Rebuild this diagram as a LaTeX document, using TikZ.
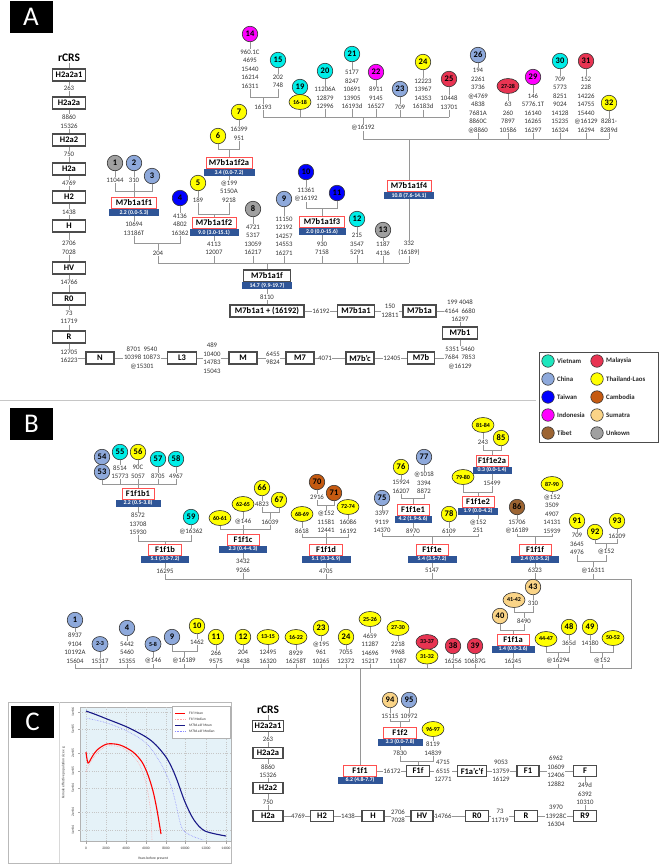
\documentclass[tikz,border=0pt]{standalone}
\usepackage{fontspec}
\setmainfont{Carlito}
\usetikzlibrary{shapes.geometric}
\definecolor{cVN}{RGB}{0,238,232}
\definecolor{cVNl}{RGB}{30,230,190}
\definecolor{cMY}{RGB}{232,52,82}
\definecolor{cCN}{RGB}{142,169,219}
\definecolor{cTH}{RGB}{255,255,0}
\definecolor{cTW}{RGB}{0,0,255}
\definecolor{cKH}{RGB}{197,90,17}
\definecolor{cID}{RGB}{255,0,255}
\definecolor{cSU}{RGB}{250,212,135}
\definecolor{cTB}{RGB}{156,100,50}
\definecolor{cUK}{RGB}{160,160,160}
\definecolor{barblue}{RGB}{47,85,151}
\definecolor{lncol}{RGB}{150,150,150}
\definecolor{redbox}{RGB}{255,80,80}
\definecolor{plotbg}{RGB}{229,242,248}
\definecolor{navy}{RGB}{25,25,135}
\tikzset{
  ln/.style={draw=lncol,line width=0.9pt},
  num/.style={font=\fontsize{6.8}{8.5}\selectfont,align=center,inner sep=0.4pt,text=black!80},
  hb/.style={draw=black!70,line width=1.2pt,fill=white,font=\fontsize{8.5}{10}\selectfont\bfseries,minimum height=12pt,inner xsep=2pt,inner ysep=0pt},
  hbb/.style={hb,minimum height=10.5pt},
  rb/.style={draw=redbox,line width=0.9pt,fill=white,font=\fontsize{8.5}{10}\selectfont\bfseries,minimum height=11pt,inner xsep=2pt,inner ysep=0pt},
  bar/.style={fill=barblue,text=white,font=\fontsize{5.8}{6}\selectfont\bfseries,minimum height=7pt,inner sep=0pt},
  cc/.style={circle,draw=black!80,line width=0.6pt,minimum size=15.5pt,inner sep=0pt,font=\fontsize{8.5}{8.5}\selectfont\bfseries},
  ee/.style={ellipse,draw=black!80,line width=0.6pt,minimum width=22pt,minimum height=15pt,inner sep=0pt,font=\fontsize{6}{6}\selectfont\bfseries},
  es/.style={ee,minimum width=16pt},
  panellab/.style={fill=black,text=white,minimum width=43pt,minimum height=32pt,inner sep=0pt,font=\fontsize{27}{27}\selectfont},
  rcrs/.style={font=\fontsize{11.5}{12}\selectfont\bfseries,inner sep=0.5pt},
  legc/.style={circle,draw=black!80,line width=0.6pt,minimum size=12.5pt,inner sep=0pt},
  legt/.style={anchor=west,font=\fontsize{6.8}{8}\selectfont\bfseries,inner sep=0pt,text=black!85},
  tick/.style={font=\fontsize{3.6}{4}\selectfont,inner sep=0pt,text=black!80},
  gridl/.style={draw=gray!45,line width=0.3pt,dotted},
}
\begin{document}
\begin{tikzpicture}[x=1pt,y=-1pt]
\useasboundingbox (0,0) rectangle (660,865);
% ================= PANEL A =================
\node[panellab] (labA) at (31,17) {A};
\node[rcrs] (aRCRS) at (69,58) {rCRS};
\node[hb,minimum width=33pt] (aH2a2a1) at (69,75) {H2a2a1};
\node[num] (a263) at (69,88) {263};
\node[hb,minimum width=33pt] (aH2a2a) at (69,103) {H2a2a};
\node[num] (a8860) at (69,121.5) {8860\\15326};
\node[hb,minimum width=33pt] (aH2a2) at (69,140) {H2a2};
\node[num] (a750) at (69,154) {750};
\node[hb,minimum width=33pt] (aH2a) at (69,169) {H2a};
\node[num] (a4769) at (69,183) {4769};
\node[hb,minimum width=33pt] (aH2) at (69,197) {H2};
\node[num] (a1438) at (69,212) {1438};
\node[hb,minimum width=33pt] (aH) at (69,226) {H};
\node[num] (a2706) at (69,247.5) {2706\\7028};
\node[hb,minimum width=33pt] (aHV) at (69,268) {HV};
\node[num] (a14766) at (69,282) {14766};
\node[hb,minimum width=33pt] (aR0) at (69,299) {R0};
\node[num] (a73) at (69,317.5) {73\\11719};
\node[hb,minimum width=33pt] (aR) at (69,337) {R};
\node[num] (a12705) at (69,356.5) {12705\\16223};
\draw[ln] (aRCRS) -- (aH2a2a1) -- (a263) -- (aH2a2a) -- (a8860) -- (aH2a2) -- (a750) -- (aH2a) -- (a4769) -- (aH2) -- (a1438) -- (aH) -- (a2706) -- (aHV) -- (a14766) -- (aR0) -- (a73) -- (aR) -- (a12705);
% bottom chain
\node[hb,minimum width=28pt] (aN) at (100,358) {N};
\node[num] (aNl) at (142,358) {8701~~9540\\10398 10873\\@15301};
\node[hb,minimum width=29pt] (aL3) at (182,358) {L3};
\node[num] (aL3l) at (212,358) {489\\10400\\14783\\15043};
\node[hb,minimum width=28pt] (aM) at (243,358) {M};
\node[num] (aMl) at (273,358) {6455\\9824};
\node[hb,minimum width=28pt] (aM7) at (300,358) {M7};
\node[num] (a4071) at (325,358) {4071};
\node[hb,minimum width=28pt] (aM7bc) at (360,358) {M7b’c};
\node[num] (a12405) at (392,358) {12405};
\node[hb,minimum width=27pt] (aM7b) at (421,358) {M7b};
\node[num] (aM7bl) at (460,358) {5351 5460\\7684~~7853\\@16129};
\node[hb,minimum width=35pt] (aM7b1) at (460,333) {M7b1};
\node[num] (aM7b1l) at (460,311) {199 4048\\4164~~6680\\16297};
\node[hb,minimum width=33pt] (aM7b1a) at (419.5,311) {M7b1a};
\node[num] (a150) at (390,311) {150\\12811};
\node[hb,minimum width=37pt] (aM7b1a1) at (356,311) {M7b1a1};
\node[num] (a16192) at (321,311) {16192};
\node[hb,minimum width=74pt] (aM7b1a1p) at (267,311) {M7b1a1 + (16192)};
\node[num] (a8110) at (267,297) {8110};
\node[hb,minimum width=47pt] (aM7b1a1f) at (267,276) {M7b1a1f};
\node[bar,minimum width=50pt] (aBf) at (267,285.5) {14.7 (9.9-19.7)};
\draw[ln] (a12705.east |- aN) -- (aN);
\draw[ln] (aN) -- (aNl) -- (aL3) -- (aL3l) -- (aM) -- (aMl) -- (aM7) -- (a4071) -- (aM7bc) -- (a12405) -- (aM7b) -- (aM7bl);
\draw[ln] (aM7bl) -- (aM7b1) -- (aM7b1l);
\draw[ln] (aM7b1a) -- (aM7b1l);
\draw[ln] (aM7b1a1) -- (a150) -- (aM7b1a);
\draw[ln] (aM7b1a1p) -- (a16192) -- (aM7b1a1);
\draw[ln] (aM7b1a1p) -- (a8110) -- (aBf);
% main horizontal y=263
\coordinate (jA263L) at (158,263);
\coordinate (jA263R) at (409,263);
\draw[ln] (jA263L) -- (jA263R);
\draw[ln] (aM7b1a1f) -- (aM7b1a1f |- jA263L);
% f1
\node[cc,fill=cUK] (c1) at (115,163) {1};
\node[cc,fill=cCN] (c2) at (134,163) {2};
\node[cc,fill=cCN] (c3) at (152,176) {3};
\node[num] (l1) at (115,180) {11044};
\node[num] (l2) at (134,180) {310};
\coordinate (j191) at (134,191);
\draw[ln] (c1) -- (l1); \draw[ln] (c2) -- (l2);
\draw[ln] (l1) |- (j191); \draw[ln] (c3) |- (j191);
\node[rb,minimum width=45pt] (f1) at (134,203) {M7b1a1f1};
\node[bar,minimum width=50pt] (bf1) at (134,212.5) {2.2 (0.0-5.3)};
\draw[ln] (l2) -- (f1);
\node[num] (lf1) at (134,228.5) {10694\\13186T};
\draw[ln] (bf1) -- (lf1);
\node[cc,fill=cTW] (c4) at (180,198) {4};
\node[num] (l4) at (180,224.5) {4136\\4802\\16362};
\draw[ln] (c4) -- (l4);
\coordinate (j243) at (158,243);
\draw[ln] (lf1) |- (j243); \draw[ln] (l4) |- (j243);
\node[num] (l204) at (158,253) {204};
\draw[ln] (j243) -- (l204) -- (jA263L);
% f2
\node[cc,fill=cTH] (c6) at (218,136) {6};
\node[cc,fill=cTH] (c7) at (239,112) {7};
\node[num] (l7) at (239,133.5) {16399\\951};
\draw[ln] (c7) -- (l7);
\coordinate (j149) at (229,149);
\draw[ln] (c6) |- (j149); \draw[ln] (l7) |- (j149);
\node[rb,minimum width=46pt] (f2a) at (229,163) {M7b1a1f2a};
\node[bar,minimum width=51pt] (bf2a) at (229,172.5) {3.4 (0.0-7.2)};
\draw[ln] (j149) -- (f2a);
\node[num] (lf2a) at (229,191.5) {@199\\5150A\\9218};
\draw[ln] (bf2a) -- (lf2a);
\node[cc,fill=cTH] (c5) at (198,183) {5};
\node[num] (l5) at (198,200) {189};
\draw[ln] (c5) -- (l5);
\coordinate (j214) at (214,214);
\draw[ln] (l5) |- (j214); \draw[ln] (lf2a) |- (j214);
\node[rb,minimum width=44pt] (f2) at (214,223) {M7b1a1f2};
\node[bar,minimum width=49pt] (bf2) at (214,232.5) {9.0 (3.0-15.1)};
\draw[ln] (j214) -- (f2);
\node[num] (lf2) at (214,248.5) {4113\\12007};
\draw[ln] (bf2) -- (lf2) -- (lf2 |- jA263L);
% 8, 9
\node[cc,fill=cUK] (c8) at (253,209) {8};
\node[num] (l8) at (253,240) {4721\\5317\\13059\\16217};
\draw[ln] (c8) -- (l8) -- (l8 |- jA263L);
\node[cc,fill=cCN] (c9) at (284,199) {9};
\node[num] (l9) at (284,236) {11150\\12192\\14257\\14553\\16271};
\draw[ln] (c9) -- (l9) -- (l9 |- jA263L);
% f3
\node[cc,fill=cTW] (c10) at (306,172) {10};
\node[num] (l10) at (306,194.5) {11361\\@16192};
\draw[ln] (c10) -- (l10);
\node[cc,fill=cTW] (c11) at (337,193) {11};
\coordinate (j208) at (322,208);
\draw[ln] (l10) |- (j208); \draw[ln] (c11) |- (j208);
\node[rb,minimum width=45pt] (f3) at (322,222) {M7b1a1f3};
\node[bar,minimum width=47pt] (bf3) at (322,231.5) {2.0 (0.0-15.6)};
\draw[ln] (j208) -- (f3);
\node[num] (lf3) at (322,248.5) {930\\7158};
\draw[ln] (bf3) -- (lf3) -- (lf3 |- jA263L);
% 12, 13, 332
\node[cc,fill=cVN] (c12) at (357,219) {12};
\node[num] (l12) at (357,244) {215\\3547\\5291};
\draw[ln] (c12) -- (l12) -- (l12 |- jA263L);
\node[cc,fill=cUK] (c13) at (383,230) {13};
\node[num] (l13) at (383,248.5) {1187\\4136};
\draw[ln] (c13) -- (l13) -- (l13 |- jA263L);
\node[num] (l332) at (409,248.5) {332\\(16189)};
\draw[ln] (l332) -- (jA263R);
% f4
\node[rb,minimum width=44pt] (f4) at (409,186) {M7b1a1f4};
\node[bar,minimum width=50pt] (bf4) at (409,195.5) {10.8 (7.6-14.1)};
\draw[ln] (bf4) -- (l332);
\coordinate (j139) at (409,139);
\draw[ln] (j139) -- (f4);
\coordinate (j139L) at (363,139);
\coordinate (j139R) at (609,139);
\draw[ln] (j139L) -- (j139R);
\node[num] (l16192u) at (363,128) {@16192};
\draw[ln] (l16192u) -- (j139L);
\node[cc,fill=cCN] (c26) at (478,55) {26};
\node[num] (l26) at (478,100.5) {194\\2261\\3736\\@4769\\4838\\7681A\\8860C\\@8860};
\draw[ln] (c26) -- (l26) -- (l26 |- j139L);
\node[ee,fill=cMY] (e2728) at (508,86) {27-28};
\node[num] (l2728) at (508,117) {63\\260\\7897\\10586};
\draw[ln] (e2728) -- (l2728) -- (l2728 |- j139L);
\node[cc,fill=cID] (c29) at (533,77) {29};
\node[num] (l29) at (533,113) {146\\5776.1T\\16140\\16265\\16297};
\draw[ln] (c29) -- (l29) -- (l29 |- j139L);
\node[cc,fill=cVN] (c30) at (560,61) {30};
\node[num] (l30) at (560,104.5) {709\\5773\\8251\\9024\\14128\\15235\\16324};
\draw[ln] (c30) -- (l30) -- (l30 |- j139L);
\node[cc,fill=cMY] (c31) at (586,61) {31};
\node[num] (l31) at (586,104.5) {152\\228\\14226\\14755\\15440\\@16129\\16294};
\draw[ln] (c31) -- (l31) -- (l31 |- j139L);
\node[cc,fill=cTH] (c32) at (609,103) {32};
\node[num] (l32) at (609,125.5) {8281-\\8289d};
\draw[ln] (c32) -- (l32) -- (j139R);
% upper subtree y=117
\coordinate (j117L) at (263,117);
\coordinate (j117R) at (449,117);
\coordinate (j117m) at (363,117);
\draw[ln] (j117L) -- (j117R);
\draw[ln] (j117m) -- (l16192u);
\node[num] (l16193) at (263,107) {16193};
\draw[ln] (l16193) -- (j117L);
\coordinate (j97) at (263,97);
\draw[ln] (j97) -- (l16193);
\node[cc,fill=cID] (c14) at (250,34) {14};
\node[num] (l14) at (250,69) {960.1C\\4695\\15440\\16214\\16311};
\draw[ln] (c14) -- (l14); \draw[ln] (l14) |- (j97);
\node[cc,fill=cVN] (c15) at (278,60) {15};
\node[num] (l15) at (278,81.5) {202\\748};
\draw[ln] (c15) -- (l15); \draw[ln] (l15) |- (j97);
\node[cc,fill=cVN] (c19) at (300,87) {19};
\node[ee,fill=cTH] (e1618) at (300,102) {16-18};
\draw[ln] (e1618) -- (e1618 |- j117L);
\node[cc,fill=cVN] (c20) at (325,71) {20};
\node[num] (l20) at (325,98) {11206A\\12879\\12996};
\draw[ln] (c20) -- (l20) -- (l20 |- j117L);
\node[cc,fill=cVN] (c21) at (352,54) {21};
\node[num] (l21) at (352,89.5) {5177\\8247\\10691\\13905\\16193d};
\draw[ln] (c21) -- (l21) -- (l21 |- j117L);
\node[cc,fill=cID] (c22) at (376,72) {22};
\node[num] (l22) at (376,98) {8911\\9145\\16527};
\draw[ln] (c22) -- (l22) -- (l22 |- j117L);
\node[cc,fill=cCN] (c23) at (400,89) {23};
\node[num] (l23) at (400,107) {709};
\draw[ln] (c23) -- (l23) -- (l23 |- j117L);
\node[cc,fill=cTH] (c24) at (423,62) {24};
\node[num] (l24) at (423,94) {12223\\13967\\14353\\16183d};
\draw[ln] (c24) -- (l24) -- (l24 |- j117L);
\node[cc,fill=cMY] (c25) at (449,79) {25};
\node[num] (l25) at (449,102.5) {10448\\13701};
\draw[ln] (c25) -- (l25) -- (j117R);
% legend
\node[draw=black!70,line width=0.8pt,minimum width=119pt,minimum height=90pt,inner sep=0pt] (legA) at (598.5,397) {};
\node[legc,fill=cVNl] (lg1) at (548,361) {}; \node[legt] (lt1) at (557,361) {Vietnam};
\node[legc,fill=cMY] (lg2) at (597,361) {}; \node[legt] (lt2) at (606,361) {Malaysia};
\node[legc,fill=cCN] (lg3) at (548,379) {}; \node[legt] (lt3) at (557,379) {China};
\node[legc,fill=cTH] (lg4) at (597,379) {}; \node[legt] (lt4) at (606,379) {Thailand-Laos};
\node[legc,fill=cTW] (lg5) at (548,397) {}; \node[legt] (lt5) at (557,397) {Taiwan};
\node[legc,fill=cKH] (lg6) at (597,397) {}; \node[legt] (lt6) at (606,397) {Cambodia};
\node[legc,fill=cID] (lg7) at (548,415) {}; \node[legt] (lt7) at (557,415) {Indonesia};
\node[legc,fill=cSU] (lg8) at (597,415) {}; \node[legt] (lt8) at (606,415) {Sumatra};
\node[legc,fill=cTB] (lg9) at (548,433) {}; \node[legt] (lt9) at (557,433) {Tibet};
\node[legc,fill=cUK] (lg10) at (597,433) {}; \node[legt] (lt10) at (606,433) {Unkown};
% separator
\draw[draw=gray!45,line width=0.9pt] (0,400) -- (536,400);
% ================= PANEL B =================
\node[panellab] (labB) at (31.5,424) {B};
\node[cc,fill=cCN] (b54) at (102,457) {54};
\node[cc,fill=cCN] (b53) at (102,472) {53};
\node[cc,fill=cVN] (b55) at (120,452) {55};
\node[cc,fill=cTH] (b56) at (138,452) {56};
\node[cc,fill=cVN] (b57) at (158,459) {57};
\node[cc,fill=cVN] (b58) at (176,459) {58};
\node[num] (bl55) at (120,472) {8514\\15773};
\node[num] (bl56) at (138,472) {90C\\5057};
\node[num] (bl57) at (158,476) {8705};
\node[num] (bl58) at (176,476) {4967};
\coordinate (bj484) at (138,484);
\draw[ln] (b55) -- (bl55); \draw[ln] (b56) -- (bl56); \draw[ln] (b57) -- (bl57); \draw[ln] (b58) -- (bl58);
\draw[ln] (b53) |- (bj484); \draw[ln] (bl55) -- (bl55 |- bj484); \draw[ln] (bl58) |- (bj484); \draw[ln] (bl57) -- (bl57 |- bj484); \draw[ln] (bl56) -- (bj484);
\node[rb,minimum width=32pt] (F1f1b1) at (138,494) {F1f1b1};
\node[bar,minimum width=45pt] (bF1f1b1) at (138,503) {2.2 (0.5-3.8)};
\draw[ln] (bj484) -- (F1f1b1);
\node[num] (bl1b1) at (138,524) {8572\\13708\\15930};
\draw[ln] (bF1f1b1) -- (bl1b1);
\node[cc,fill=cVN] (b59) at (191,517) {59};
\node[num] (bl59) at (191,532) {@16362};
\draw[ln] (b59) -- (bl59);
\coordinate (bj541) at (165,541);
\draw[ln] (bl1b1) |- (bj541); \draw[ln] (bl59) |- (bj541);
\node[rb,minimum width=33pt] (F1f1b) at (165,550) {F1f1b};
\node[bar,minimum width=48pt] (bF1f1b) at (165,559) {5.1 (3.0-7.2)};
\draw[ln] (bj541) -- (F1f1b);
\node[num] (bl16295) at (165,571) {16295};
\coordinate (bjTopL) at (165,579);
\coordinate (bjTopR) at (631,579);
\draw[ln] (bF1f1b) -- (bl16295) -- (bjTopL);
\draw[ln] (bjTopL) -- (bjTopR);
% F1f1c
\node[cc,fill=cTH] (b66) at (262,488) {66};
\node[cc,fill=cTH] (b67) at (279,500) {67};
\node[num] (bl66) at (262,504) {4823};
\draw[ln] (b66) -- (bl66);
\coordinate (bj512) at (270,512);
\draw[ln] (bl66) |- (bj512); \draw[ln] (b67) |- (bj512);
\node[num] (bl16039) at (270,522) {16039};
\draw[ln] (bj512) -- (bl16039);
\node[ee,fill=cTH] (b6265) at (243,504) {62-65};
\node[num] (bl146) at (243,522) {@146};
\draw[ln] (b6265) -- (bl146);
\node[ee,fill=cTH] (b6061) at (220,518) {60-61};
\coordinate (bj529) at (243,529);
\draw[ln] (b6061) |- (bj529); \draw[ln] (bl16039) |- (bj529);
\node[rb,minimum width=32pt] (F1f1c) at (243,540) {F1f1c};
\node[bar,minimum width=48pt] (bF1f1c) at (243,549) {2.3 (0.4-4.3)};
\draw[ln] (bl146) -- (F1f1c);
\node[num] (bl3432) at (243,566) {3432\\9266};
\draw[ln] (bF1f1c) -- (bl3432) -- (bl3432 |- bjTopL);
% F1f1d
\node[ee,fill=cTH] (b6869) at (302,514) {68-69};
\node[num] (bl8618) at (302,531) {8618};
\draw[ln] (b6869) -- (bl8618);
\node[cc,fill=cKH] (b70) at (317,482) {70};
\node[num] (bl2916) at (317,497) {2916};
\draw[ln] (b70) -- (bl2916);
\node[cc,fill=cKH] (b71) at (334,493) {71};
\coordinate (bj505) at (326,505);
\draw[ln] (bl2916) |- (bj505); \draw[ln] (b71) |- (bj505);
\node[num] (bl71) at (326,522) {@152\\11581\\12441};
\draw[ln] (bj505) -- (bl71);
\node[ee,fill=cTH] (b7274) at (348,507) {72-74};
\node[num] (bl7274) at (348,526.5) {16086\\16192};
\draw[ln] (b7274) -- (bl7274);
\coordinate (bj537) at (326,537);
\draw[ln] (bl8618) |- (bj537); \draw[ln] (bl7274) |- (bj537);
\node[rb,minimum width=33pt] (F1f1d) at (326,550) {F1f1d};
\node[bar,minimum width=49pt] (bF1f1d) at (326,559) {5.1 (3.3-6.9)};
\draw[ln] (bl71) -- (F1f1d);
\node[num] (bl4705) at (326,571) {4705};
\draw[ln] (bF1f1d) -- (bl4705) -- (bl4705 |- bjTopL);
% F1f1e
\node[cc,fill=cCN] (b75) at (382,498) {75};
\node[num] (bl75) at (382,522) {3397\\9119\\14370};
\draw[ln] (b75) -- (bl75);
\node[cc,fill=cTH] (b76) at (401,467) {76};
\node[num] (bl76) at (401,487) {15924\\16207};
\node[cc,fill=cCN] (b77) at (424,457) {77};
\node[num] (bl77) at (424,483) {@1018\\3394\\8872};
\draw[ln] (b76) -- (bl76); \draw[ln] (b77) -- (bl77);
\coordinate (bj498) at (413,498);
\draw[ln] (bl76) |- (bj498); \draw[ln] (bl77) |- (bj498);
\node[rb,minimum width=32pt] (F1f1e1) at (413,510) {F1f1e1};
\node[bar,minimum width=37pt] (bF1f1e1) at (413,519) {4.2 (1.9-6.6)};
\draw[ln] (bj498) -- (F1f1e1);
\node[num] (bl8970) at (413,531) {8970};
\draw[ln] (bF1f1e1) -- (bl8970);
\node[cc,fill=cTH] (b78) at (449,514) {78};
\node[num] (bl6109) at (449,531) {6109};
\draw[ln] (b78) -- (bl6109);
\node[ee,fill=cTH] (b8184) at (483,425) {81-84};
\node[num] (bl243) at (483,442) {243};
\draw[ln] (b8184) -- (bl243);
\node[cc,fill=cTH] (b85) at (501,438) {85};
\coordinate (bj450) at (492,450);
\draw[ln] (bl243) |- (bj450); \draw[ln] (b85) |- (bj450);
\node[rb,minimum width=32pt] (F1f1e2a) at (492,461) {F1f1e2a};
\node[bar,minimum width=39pt] (bF1f1e2a) at (492,470) {0.3 (0.0-1.4)};
\draw[ln] (bj450) -- (F1f1e2a);
\node[num] (bl15499) at (492,483) {15499};
\draw[ln] (bF1f1e2a) -- (bl15499);
\node[ee,fill=cTH] (b7980) at (463,477) {79-80};
\coordinate (bj492) at (478,492);
\draw[ln] (b7980) |- (bj492); \draw[ln] (bl15499) |- (bj492);
\node[rb,minimum width=32pt] (F1f1e2) at (478,502) {F1f1e2};
\node[bar,minimum width=40pt] (bF1f1e2) at (478,511) {1.9 (0.0-4.2)};
\draw[ln] (bj492) -- (F1f1e2);
\node[num] (bl152e) at (478,526.5) {@152\\251};
\draw[ln] (bF1f1e2) -- (bl152e);
\coordinate (bj536e) at (432,536);
\draw[ln] (bl75) |- (bj536e); \draw[ln] (bl152e) |- (bj536e);
\draw[ln] (bl8970) -- (bl8970 |- bj536e); \draw[ln] (bl6109) -- (bl6109 |- bj536e);
\node[rb,minimum width=32pt] (F1f1e) at (432,550) {F1f1e};
\node[bar,minimum width=49pt] (bF1f1e) at (432,559) {5.4 (3.5-7.2)};
\draw[ln] (bj536e) -- (F1f1e);
\node[num] (bl5147) at (432,570.5) {5147};
\draw[ln] (bF1f1e) -- (bl5147) -- (bl5147 |- bjTopL);
% F1f1f
\node[cc,fill=cTB] (b86) at (517,507) {86};
\node[num] (bl86) at (517,526.5) {15706\\@16189};
\draw[ln] (b86) -- (bl86);
\node[ee,fill=cTH] (b8790) at (552,484) {87-90};
\node[num] (bl8790) at (552,514) {@152\\3509\\4907\\14131\\15939};
\draw[ln] (b8790) -- (bl8790);
\coordinate (bj536f) at (535,536);
\draw[ln] (bl86) |- (bj536f); \draw[ln] (bl8790) |- (bj536f);
\node[rb,minimum width=32pt] (F1f1f) at (535,550) {F1f1f};
\node[bar,minimum width=48pt] (bF1f1f) at (535,559) {2.4 (0.0-5.2)};
\draw[ln] (bj536f) -- (F1f1f);
\node[num] (bl6323) at (535,570.5) {6323};
\draw[ln] (bF1f1f) -- (bl6323) -- (bl6323 |- bjTopL);
% @16311
\node[cc,fill=cTH] (b91) at (577,521) {91};
\node[num] (bl91) at (577,544) {709\\3645\\4976};
\draw[ln] (b91) -- (bl91);
\node[cc,fill=cTH] (b92) at (595,532) {92};
\node[cc,fill=cTH] (b93) at (617,521) {93};
\node[num] (bl93) at (617,536) {16209};
\draw[ln] (b93) -- (bl93);
\coordinate (bj543) at (606,543);
\draw[ln] (b92) |- (bj543); \draw[ln] (bl93) |- (bj543);
\node[num] (bl152g) at (606,552) {@152};
\draw[ln] (bj543) -- (bl152g);
\coordinate (bj561) at (593,561);
\draw[ln] (bl91) |- (bj561); \draw[ln] (bl152g) |- (bj561);
\node[num] (bl16311) at (593,570.5) {@16311};
\draw[ln] (bj561) -- (bl16311) -- (bl16311 |- bjTopL);
% frame lines
\coordinate (bjBotR) at (631,668);
\coordinate (bjBotL) at (75,668);
\draw[ln] (bjTopR) -- (bjBotR) -- (bjBotL);
% bottom row
\node[cc,fill=cCN] (d1) at (75,620) {1};
\node[num] (dl1) at (75,648) {8937\\9104\\10192A\\15604};
\draw[ln] (d1) -- (dl1) -- (bjBotL);
\node[es,fill=cCN] (d23) at (100,644) {2-3};
\node[num] (dl23) at (100,661) {15317};
\draw[ln] (d23) -- (dl23) -- (dl23 |- bjBotL);
\node[cc,fill=cCN] (d4) at (127,628) {4};
\node[num] (dl4) at (127,652.5) {5442\\5460\\15355};
\draw[ln] (d4) -- (dl4) -- (dl4 |- bjBotL);
\node[es,fill=cCN] (d58) at (153,644) {5-8};
\node[num] (dl58) at (153,661) {@146};
\draw[ln] (d58) -- (dl58) -- (dl58 |- bjBotL);
\node[cc,fill=cCN] (d9) at (172,637) {9};
\node[cc,fill=cTH] (d10) at (197,626) {10};
\node[num] (dl10) at (197,642) {1462};
\draw[ln] (d10) -- (dl10);
\coordinate (dj651) at (184,651);
\draw[ln] (d9) |- (dj651); \draw[ln] (dl10) |- (dj651);
\node[num] (dl9) at (184,661) {@16189};
\draw[ln] (dj651) -- (dl9) -- (dl9 |- bjBotL);
\node[cc,fill=cTH] (d11) at (216,637) {11};
\node[num] (dl11) at (216,657) {266\\9575};
\draw[ln] (d11) -- (dl11) -- (dl11 |- bjBotL);
\node[cc,fill=cTH] (d12) at (243,637) {12};
\node[num] (dl12) at (243,657) {204\\9438};
\draw[ln] (d12) -- (dl12) -- (dl12 |- bjBotL);
\node[ee,fill=cTH] (d1315) at (268,637) {13-15};
\node[num] (dl1315) at (268,657) {12495\\16320};
\draw[ln] (d1315) -- (dl1315) -- (dl1315 |- bjBotL);
\node[ee,fill=cTH] (d1622) at (296,637) {16-22};
\node[num] (dl1622) at (296,657) {8929\\16258T};
\draw[ln] (d1622) -- (dl1622) -- (dl1622 |- bjBotL);
\node[cc,fill=cTH] (d23b) at (321,628) {23};
\node[num] (dl23b) at (321,652.5) {@195\\961\\10265};
\draw[ln] (d23b) -- (dl23b) -- (dl23b |- bjBotL);
\node[cc,fill=cTH] (d24) at (346,637) {24};
\node[num] (dl24) at (346,657) {7055\\12372};
\draw[ln] (d24) -- (dl24) -- (dl24 |- bjBotL);
\node[ee,fill=cTH] (d2526) at (370,619) {25-26};
\node[num] (dl2526) at (370,648.5) {4659\\11287\\14696\\15217};
\draw[ln] (d2526) -- (dl2526) -- (dl2526 |- bjBotL);
\node[ee,fill=cTH] (d2730) at (398,628) {27-30};
\node[num] (dl2730) at (398,652.5) {2218\\9968\\11087};
\draw[ln] (d2730) -- (dl2730) -- (dl2730 |- bjBotL);
\node[ee,fill=cMY] (d3337) at (427,642) {33-37};
\node[ee,fill=cTH] (d3132) at (427,656.5) {31-32};
\draw[ln] (d3132) -- (d3132 |- bjBotL);
\node[cc,fill=cMY] (d38) at (453,646) {38};
\node[num] (dl38) at (453,661) {16256};
\draw[ln] (d38) -- (dl38) -- (dl38 |- bjBotL);
\node[cc,fill=cMY] (d39) at (475,646) {39};
\node[num] (dl39) at (475,661) {10687G};
\draw[ln] (d39) -- (dl39) -- (dl39 |- bjBotL);
% F1f1a
\node[cc,fill=cSU] (d43) at (533,587) {43};
\node[num] (dl43) at (533,603) {310};
\draw[ln] (d43) -- (dl43);
\node[ee,fill=cSU] (d4142) at (514,600) {41-42};
\coordinate (dj612) at (524,612);
\draw[ln] (d4142) |- (dj612); \draw[ln] (dl43) |- (dj612);
\node[num] (dl8490) at (524,621) {8490};
\draw[ln] (dj612) -- (dl8490);
\node[cc,fill=cSU] (d40) at (500,616) {40};
\coordinate (dj630) at (513,630);
\draw[ln] (d40) |- (dj630); \draw[ln] (dl8490) |- (dj630);
\node[rb,minimum width=32pt] (F1f1a) at (513,640) {F1f1a};
\node[bar,minimum width=43pt] (bF1f1a) at (513,649) {1.4 (0.0-3.6)};
\draw[ln] (dj630) -- (F1f1a);
\node[num] (dl16245) at (513,661) {16245};
\draw[ln] (bF1f1a) -- (dl16245) -- (dl16245 |- bjBotL);
\node[ee,fill=cTH] (d4447) at (546,639) {44-47};
\node[cc,fill=cTH] (d48) at (569,627) {48};
\node[num] (dl48) at (569,643) {365d};
\draw[ln] (d48) -- (dl48);
\coordinate (dj652a) at (558,652);
\draw[ln] (d4447) |- (dj652a); \draw[ln] (dl48) |- (dj652a);
\node[num] (dl16294) at (558,661) {@16294};
\draw[ln] (dj652a) -- (dl16294) -- (dl16294 |- bjBotL);
\node[cc,fill=cTH] (d49) at (590,627) {49};
\node[num] (dl49) at (590,643) {14180};
\draw[ln] (d49) -- (dl49);
\node[ee,fill=cTH] (d5052) at (613,638) {50-52};
\coordinate (dj652b) at (602,652);
\draw[ln] (dl49) |- (dj652b); \draw[ln] (d5052) |- (dj652b);
\node[num] (dl152d) at (602,661) {@152};
\draw[ln] (dj652b) -- (dl152d) -- (dl152d |- bjBotL);
% F1f1 and lower chain
\coordinate (bjF1f1) at (360,668);
\node[rb,minimum width=33pt] (F1f1) at (360,771) {F1f1};
\node[bar,minimum width=45pt] (bF1f1) at (360,780) {6.2 (4.8-7.7)};
\draw[ln] (bjF1f1) -- (F1f1);
\node[num] (e16172) at (392,771) {16172};
\node[hbb,minimum width=23pt] (F1f) at (418,771) {F1f};
\draw[ln] (F1f1) -- (e16172) -- (F1f);
\node[cc,fill=cSU] (e94) at (390,700) {94};
\node[cc,fill=cCN] (e95) at (409,700) {95};
\node[num] (el94) at (390,716) {15115};
\node[num] (el95) at (409,716) {10972};
\draw[ln] (e94) -- (el94); \draw[ln] (e95) -- (el95);
\coordinate (ej721) at (400,721);
\draw[ln] (el94) |- (ej721); \draw[ln] (el95) |- (ej721);
\node[rb,minimum width=33pt] (F1f2) at (400,733) {F1f2};
\node[bar,minimum width=45pt] (bF1f2) at (400,742) {3.3 (0.0-7.8)};
\draw[ln] (ej721) -- (F1f2);
\node[num] (el7830) at (400,753) {7830};
\draw[ln] (bF1f2) -- (el7830);
\node[ee,fill=cTH] (e9697) at (433,729) {96-97};
\node[num] (el9697) at (433,748.5) {8119\\14839};
\draw[ln] (e9697) -- (el9697);
\coordinate (ej761) at (418,761);
\draw[ln] (el7830) |- (ej761); \draw[ln] (el9697) |- (ej761);
\draw[ln] (ej761) -- (F1f);
\node[num] (e4715) at (443,771) {4715\\6515\\12771};
\node[hbb,minimum width=29pt] (F1acf) at (472,771) {F1a’c’f};
\node[num] (e9053) at (501,771) {9053\\13759\\16129};
\node[hbb,minimum width=22pt] (F1b) at (528,771) {F1};
\node[num] (e6962) at (556,771) {6962\\10609\\12406\\12882};
\node[hbb,minimum width=23pt] (Fb) at (585,771) {F};
\draw[ln] (F1f) -- (e4715) -- (F1acf) -- (e9053) -- (F1b) -- (e6962) -- (Fb);
\node[num] (e249d) at (585,794) {249d\\6392\\10310};
\node[hbb,minimum width=23pt] (R9) at (585,816) {R9};
\draw[ln] (Fb) -- (e249d) -- (R9);
\node[num] (e3970) at (556,816) {3970\\13928C\\16304};
\node[hbb,minimum width=23pt] (Rb) at (526,816) {R};
\node[num] (e73) at (500,816) {73\\11719};
\node[hbb,minimum width=23pt] (R0b) at (477,816) {R0};
\node[num] (e14766) at (443,816) {14766};
\node[hbb,minimum width=22pt] (HVb) at (422,816) {HV};
\node[num] (e2706) at (398,816) {2706\\7028};
\node[hbb,minimum width=22pt] (Hb) at (373,816) {H};
\node[num] (e1438) at (348,816) {1438};
\node[hbb,minimum width=23pt] (H2b) at (322,816) {H2};
\node[num] (e4769) at (298,816) {4769};
\node[hbb,minimum width=30pt] (H2ab) at (268,816) {H2a};
\draw[ln] (H2ab) -- (e4769) -- (H2b) -- (e1438) -- (Hb) -- (e2706) -- (HVb) -- (e14766) -- (R0b) -- (e73) -- (Rb) -- (e3970) -- (R9);
\node[rcrs] (bRCRS) at (268,710) {rCRS};
\node[hbb,minimum width=30pt] (bH2a2a1) at (268,726) {H2a2a1};
\node[num] (b263) at (268,739.5) {263};
\node[hbb,minimum width=30pt] (bH2a2a) at (268,753) {H2a2a};
\node[num] (b8860) at (268,771) {8860\\15326};
\node[hbb,minimum width=30pt] (bH2a2) at (268,788) {H2a2};
\node[num] (b750) at (268,802) {750};
\draw[ln] (bRCRS) -- (bH2a2a1) -- (b263) -- (bH2a2a) -- (b8860) -- (bH2a2) -- (b750) -- (H2ab);
% ================= PANEL C =================
\draw[draw=gray!55,line width=0.6pt] (8,702) rectangle (231,863);
\draw[draw=gray!30,line width=0.5pt] (59,702) -- (59,863);
\node[panellab] (labC) at (32.5,722) {C};
\fill[plotbg] (80,707) rectangle (231,841);
\draw[draw=gray!60,line width=0.4pt] (80,707) rectangle (231,841);
\foreach \gx in {86,106,126,146,166,185,206,226} {\draw[gridl] (\gx,707) -- (\gx,841); \draw[draw=gray!70,line width=0.3pt] (\gx,841) -- (\gx,843.5);}
\foreach \gy in {712,729,753,771,788,812,830} {\draw[gridl] (80,\gy) -- (231,\gy); \draw[draw=gray!70,line width=0.3pt] (80,\gy) -- (77.5,\gy);}
\foreach \gx/\lab in {86/0,106/2000,126/4000,146/6000,166/8000,185/10000,206/12000,226/14000} \node[tick] (tx\gx) at (\gx,848.5) {\lab};
\foreach \gy/\lab in {712/1e+06,729/5e+05,753/2e+05,771/1e+05,788/5e+04,812/2e+04,830/1e+04} \node[tick,rotate=90] (ty\gy) at (73,\gy) {\lab};
\node[tick,rotate=90] (ylab) at (63.5,773) {Female effective population size x g};
\node[tick] (xlab) at (153,858.5) {Years before present};
% curves
\draw[draw=blue!45,line width=0.6pt,densely dotted] plot[smooth] coordinates {(86,718) (107,723) (127,731) (146,743) (160,762) (170,783) (175,800) (179,818) (183,830) (192,836) (203,840)};
\draw[draw=navy,line width=1.1pt] plot[smooth] coordinates {(86,711) (97,715) (107,719) (127,727) (146,737) (156,745) (166,757) (172,768) (177,780) (185,802) (194,820) (205,831) (226,836)};
\draw[draw=red!35,line width=0.6pt,densely dotted] plot[smooth] coordinates {(86,772) (90,763) (97,753) (107,746) (120,747) (130,753) (138,762) (144,776) (148,793) (151,815) (152,840)};
\draw[draw=red,line width=1.1pt] plot[smooth] coordinates {(86,752) (88,763) (92,757) (97,750) (107,744) (120,745) (133,752) (142,762) (148,775) (153,791) (157,810) (161,834)};
% plot legend
\node[draw=gray!60,fill=white,line width=0.4pt,minimum width=58pt,minimum height=32pt,inner sep=0pt] (cleg) at (201,722) {};
\draw[draw=red,line width=1pt] (175,713) -- (185,713);
\draw[draw=red!35,line width=0.6pt,densely dotted] (175,719) -- (185,719);
\draw[draw=navy,line width=1pt] (175,725) -- (185,725);
\draw[draw=blue!45,line width=0.6pt,densely dotted] (175,731) -- (185,731);
\node[tick,anchor=west] (clt1) at (189,713) {F1f Mean};
\node[tick,anchor=west] (clt2) at (189,719) {F1f Median};
\node[tick,anchor=west] (clt3) at (189,725) {M7b1a1f Mean};
\node[tick,anchor=west] (clt4) at (189,731) {M7b1a1f Median};
\end{tikzpicture}
\end{document}
